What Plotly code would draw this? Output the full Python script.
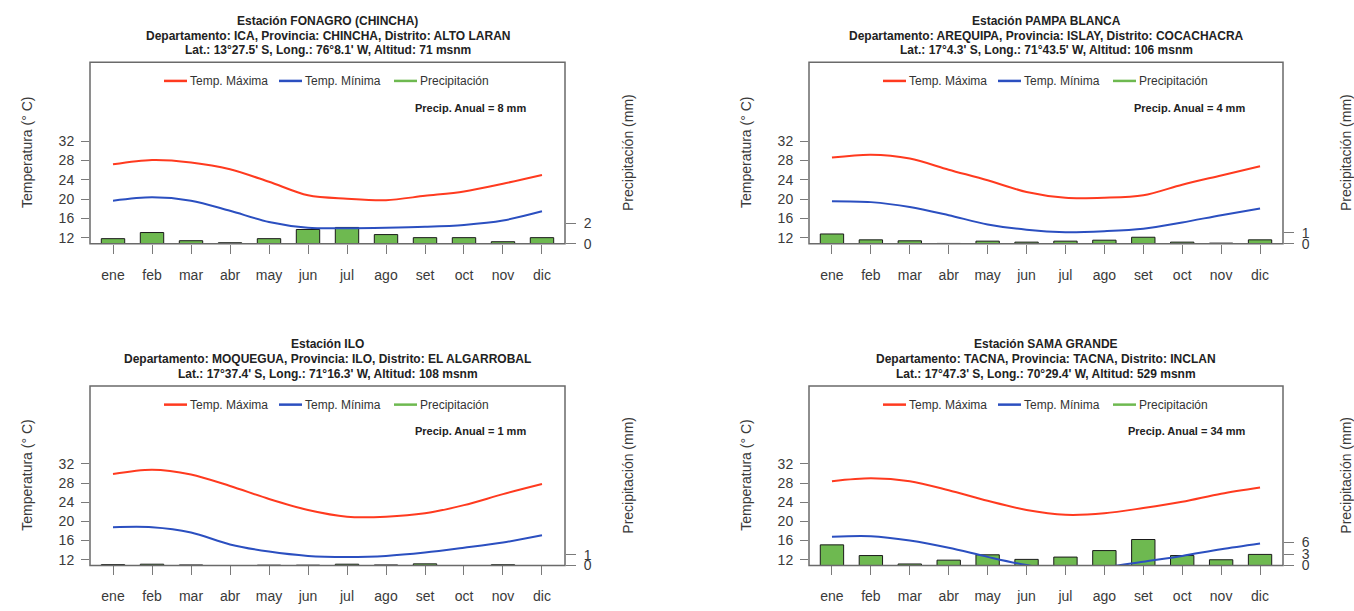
import plotly.graph_objects as go

W, H = 1354, 611

meses = ["ene", "feb", "mar", "abr", "may", "jun", "jul", "ago", "set", "oct", "nov", "dic"]

# --- Estación FONAGRO (CHINCHA) ---
fonagro_tmax = [27.2, 28.1, 27.6, 26.2, 23.6, 20.8, 20.1, 19.8, 20.7, 21.6, 23.2, 25.0]
fonagro_tmin = [19.7, 20.4, 19.7, 17.6, 15.3, 14.1, 14.0, 14.1, 14.3, 14.7, 15.6, 17.5]
fonagro_pp = [0.5, 1.1, 0.3, 0.1, 0.5, 1.4, 1.6, 0.9, 0.6, 0.6, 0.2, 0.6]

# --- Estación PAMPA BLANCA ---
pampa_tmax = [28.6, 29.2, 28.4, 26.1, 23.9, 21.5, 20.3, 20.3, 20.8, 23.0, 24.9, 26.8]
pampa_tmin = [19.6, 19.4, 18.4, 16.7, 14.8, 13.7, 13.2, 13.4, 13.9, 15.2, 16.7, 18.1]
pampa_pp = [0.9, 0.36, 0.27, 0.03, 0.24, 0.15, 0.24, 0.33, 0.6, 0.15, 0.06, 0.36]

# --- Estación ILO ---
ilo_tmax = [29.9, 30.8, 29.8, 27.4, 24.7, 22.4, 21.0, 21.0, 21.7, 23.4, 25.7, 27.8]
ilo_tmin = [18.8, 18.8, 17.7, 15.2, 13.7, 12.8, 12.6, 12.8, 13.5, 14.5, 15.6, 17.1]
ilo_pp = [0.08, 0.12, 0.05, 0.0, 0.03, 0.03, 0.12, 0.05, 0.15, 0.0, 0.07, 0.0]

# --- Estación SAMA GRANDE ---
sama_tmax = [28.4, 29.0, 28.4, 26.5, 24.3, 22.4, 21.4, 21.7, 22.8, 24.1, 25.8, 27.1]
sama_tmin = [16.8, 16.9, 16.0, 14.5, 12.6, 10.9, 9.8, 10.4, 11.6, 12.8, 14.2, 15.4]
sama_pp = [5.4, 2.6, 0.4, 1.4, 2.8, 1.6, 2.2, 3.9, 6.8, 2.6, 1.5, 2.9]

# station header lines
titulos = [
    ["Estación FONAGRO (CHINCHA)",
     "Departamento: ICA, Provincia: CHINCHA, Distrito: ALTO LARAN",
     "Lat.: 13°27.5' S, Long.: 76°8.1' W, Altitud: 71 msnm"],
    ["Estación PAMPA BLANCA",
     "Departamento: AREQUIPA, Provincia: ISLAY, Distrito: COCACHACRA",
     "Lat.: 17°4.3' S, Long.: 71°43.5' W, Altitud: 106 msnm"],
    ["Estación ILO",
     "Departamento: MOQUEGUA, Provincia: ILO, Distrito: EL ALGARROBAL",
     "Lat.: 17°37.4' S, Long.: 71°16.3' W, Altitud: 108 msnm"],
    ["Estación SAMA GRANDE",
     "Departamento: TACNA, Provincia: TACNA, Distrito: INCLAN",
     "Lat.: 17°47.3' S, Long.: 70°29.4' W, Altitud: 529 msnm"],
]
precip_anual = [8, 4, 1, 34]
pp_ticks = [[0, 2], [0, 1], [0, 1], [0, 3, 6]]
pp_max = [17.8, 16.7, 16.5, 47.0]

tmax_all = [fonagro_tmax, pampa_tmax, ilo_tmax, sama_tmax]
tmin_all = [fonagro_tmin, pampa_tmin, ilo_tmin, sama_tmin]
pp_all = [fonagro_pp, pampa_pp, ilo_pp, sama_pp]

temp_ticks = [12, 16, 20, 24, 28, 32]
temp_range = [10.8, 48.3]

# panel boxes in page pixels: left, top, right, bottom
boxes = [(90, 63, 565, 247), (809, 63, 1283, 247),
         (90, 391, 565, 573), (809, 391, 1283, 573)]

C_MAX = "#FF3A1F"
C_MIN = "#2B4FC0"
C_PP = "#6EB950"
FONT = "Liberation Sans, Arial, sans-serif"
TXT = "#3a3a3a"


def px(x):
    return x / W


def py(y):
    return 1 - y / H


x_idx = list(range(len(meses)))
fig = go.Figure()
layout = dict(
    width=W, height=H, margin=dict(l=0, r=0, t=0, b=0),
    paper_bgcolor="white", plot_bgcolor="white", showlegend=False,
    font=dict(family=FONT, color=TXT),
)
shapes, annotations = [], []

for i in range(4):
    n = i + 1
    xa = "x" if n == 1 else f"x{n}"
    ya = "y" if n == 1 else f"y{n}"
    yt = f"y{n + 4}"
    l, t, r, b = boxes[i]

    fig.add_trace(go.Bar(
        x=x_idx, y=pp_all[i], xaxis=xa, yaxis=ya, width=0.6,
        marker=dict(color=C_PP, line=dict(color="#1a1a1a", width=1)),
        name="Precipitación",
    ))
    fig.add_trace(go.Scatter(
        x=x_idx, y=tmax_all[i], xaxis=xa, yaxis=yt, mode="lines",
        line=dict(color=C_MAX, width=2, shape="spline", smoothing=0.9),
        name="Temp. Máxima",
    ))
    fig.add_trace(go.Scatter(
        x=x_idx, y=tmin_all[i], xaxis=xa, yaxis=yt, mode="lines",
        line=dict(color=C_MIN, width=2, shape="spline", smoothing=0.9),
        name="Temp. Mínima",
    ))

    xkey = "xaxis" if n == 1 else f"xaxis{n}"
    ykey = "yaxis" if n == 1 else f"yaxis{n}"
    layout[xkey] = dict(
        domain=[px(l), px(r)], anchor=ya, range=[-0.59, 11.59],
        tickmode="array", tickvals=x_idx, ticktext=meses,
        ticks="outside", ticklen=9, tickcolor="#7a7a7a", tickwidth=1,
        showline=False, showgrid=False, zeroline=False,
        tickfont=dict(size=14, color=TXT), ticklabelstandoff=9,
    )
    layout[ykey] = dict(
        domain=[py(b), py(t)], anchor=xa, side="right", range=[0, pp_max[i]],
        tickmode="array", tickvals=pp_ticks[i],
        ticks="outside", ticklen=10, tickcolor="#7a7a7a", tickwidth=1,
        showline=False, showgrid=False, zeroline=False,
        tickfont=dict(size=14, color=TXT), ticklabelstandoff=5,
    )
    layout[f"yaxis{n + 4}"] = dict(
        domain=[py(b), py(t)], anchor=xa, overlaying=ya, side="left",
        range=temp_range, tickmode="array", tickvals=temp_ticks,
        ticks="outside", ticklen=8, tickcolor="#7a7a7a", tickwidth=1,
        showline=False, showgrid=False, zeroline=False,
        tickfont=dict(size=14, color=TXT), ticklabelstandoff=4,
    )

    # frame around the plotting area
    shapes.append(dict(type="rect", xref=f"{xa} domain", yref=f"{ya} domain",
                       x0=0, x1=1, y0=0, y1=1,
                       line=dict(color="#6a6a6a", width=1.5)))

    cx = (l + r) / 2
    # station header
    for k, (txt, dy) in enumerate(zip(titulos[i], [-42, -27, -12])):
        annotations.append(dict(
            x=px(cx), y=py(t + dy), xref="paper", yref="paper",
            text=f"<b>{txt}</b>", showarrow=False, xanchor="center", yanchor="middle",
            font=dict(size=12, color="#222222", family=FONT),
        ))

    # legend row inside the frame
    ly = t + 19
    for (x0, x1, col, lab) in [(74, 97, C_MAX, "Temp. Máxima"),
                               (189, 212, C_MIN, "Temp. Mínima"),
                               (304, 327, C_PP, "Precipitación")]:
        shapes.append(dict(type="line", xref="paper", yref="paper",
                           x0=px(l + x0), x1=px(l + x1), y0=py(ly), y1=py(ly),
                           line=dict(color=col, width=2.5)))
        annotations.append(dict(
            x=px(l + x1 + 1), y=py(ly), xref="paper", yref="paper",
            text=lab, showarrow=False, xanchor="left", yanchor="middle",
            font=dict(size=12, color="#333333", family=FONT),
        ))

    annotations.append(dict(
        x=px(l + 438), y=py(t + 46), xref="paper", yref="paper",
        text=f"<b>Precip. Anual = {precip_anual[i]} mm</b>", showarrow=False,
        xanchor="right", yanchor="middle",
        font=dict(size=11, color="#222222", family=FONT),
    ))

    cy = (t + b) / 2
    annotations.append(dict(
        x=px(l - 63), y=py(cy), xref="paper", yref="paper",
        text="Temperatura (° C)", textangle=-90, showarrow=False,
        xanchor="center", yanchor="middle",
        font=dict(size=14, color=TXT, family=FONT),
    ))
    annotations.append(dict(
        x=px(r + 63), y=py(cy), xref="paper", yref="paper",
        text="Precipitación (mm)", textangle=-90, showarrow=False,
        xanchor="center", yanchor="middle",
        font=dict(size=14, color=TXT, family=FONT),
    ))

layout["shapes"] = shapes
layout["annotations"] = annotations
fig.update_layout(**layout)
fig.write_html("out.html")
